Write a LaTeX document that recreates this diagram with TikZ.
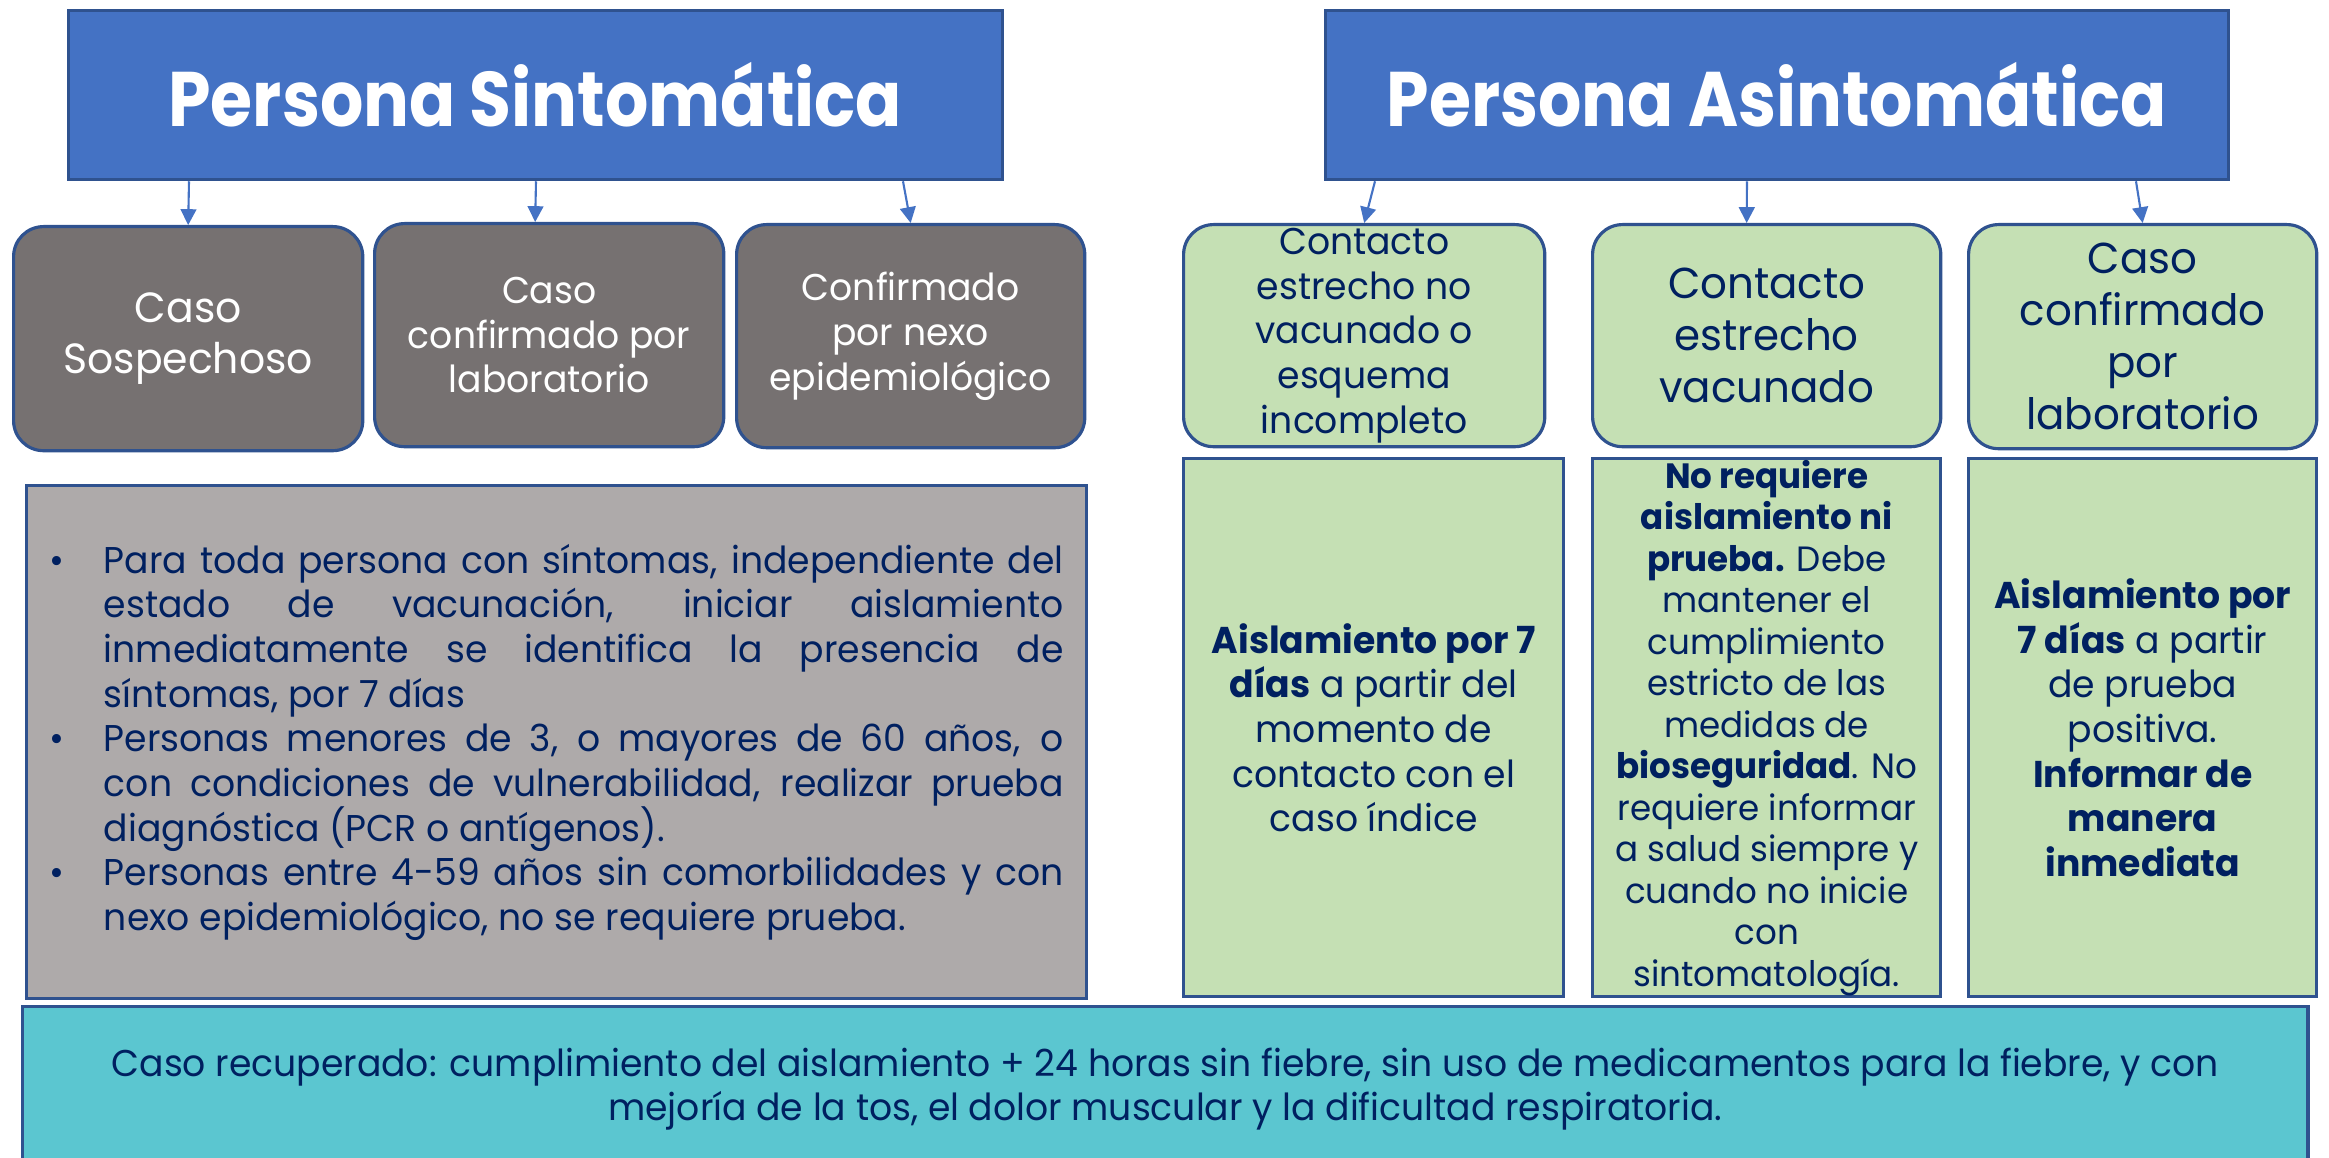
\documentclass[tikz,border=0pt]{standalone}
\usepackage{fontspec}
\setmainfont[FakeStretch=0.97]{Poppins}
\newfontfamily\titlefont[FakeStretch=0.88]{Poppins}
\usetikzlibrary{arrows.meta}
\definecolor{titleblue}{HTML}{4472C4}
\definecolor{edgeblue}{HTML}{2F528F}
\definecolor{casegray}{HTML}{767171}
\definecolor{notegray}{HTML}{AEAAAA}
\definecolor{notegreen}{HTML}{C5E0B4}
\definecolor{notecyan}{HTML}{5BC6D0}
\definecolor{navy}{HTML}{002060}
\newcommand{\punto}{\hangindent=15.6pt\hangafter=1\noindent\makebox[15.6pt][l]{\textbullet}}
\begin{document}
\begin{tikzpicture}[x=0.01cm,y=-0.01cm,
  every node/.style={anchor=north west,inner sep=0pt,align=center},
  titlebox/.style={draw=edgeblue,line width=0.9pt,fill=titleblue,text=white,font=\fontsize{22}{26}\titlefont\bfseries},
  casebox/.style={draw=edgeblue,line width=0.9pt,rounded corners=0.3cm,fill=casegray,text=white,font=\fontsize{10.6}{12.7}\selectfont},
  greenbox/.style={draw=edgeblue,line width=0.9pt,rounded corners=0.3cm,fill=notegreen,text=navy,font=\fontsize{12.3}{14.8}\selectfont},
  notebox/.style={draw=edgeblue,line width=0.9pt,text=navy,font=\fontsize{10.6}{12.7}\selectfont},
  flecha/.style={-{Triangle[length=4.5pt,width=4.5pt]},line width=0.6pt,titleblue}]
 \useasboundingbox (0,0) rectangle (2329,1158);
 %
 \node[titlebox,minimum width=9.33cm,minimum height=1.69cm] (sinto) at (67,9) {Persona Sintomática};
 \node[titlebox,minimum width=9.02cm,minimum height=1.69cm] (asinto) at (1324,9) {Persona Asintomática};
 %
 \node[casebox,minimum width=3.49cm,minimum height=2.24cm,font=\fontsize{12}{14.3}\selectfont] (sosp) at (12,225) {Caso\\Sospechoso};
 \node[casebox,minimum width=3.49cm,minimum height=2.23cm] (lab) at (373,222) {Caso\\confirmado por\\laboratorio};
 \node[casebox,minimum width=3.48cm,minimum height=2.23cm] (nexo) at (735,223) {Confirmado\\por nexo\\epidemiológico};
 %
 \node[greenbox,minimum width=3.61cm,minimum height=2.22cm,font=\fontsize{10.6}{12.7}\selectfont] (nova) at (1182,223) {Contacto\\estrecho no\\vacunado o\\esquema\\incompleto};
 \node[greenbox,minimum width=3.48cm,minimum height=2.22cm] (vacu) at (1591,223) {Contacto\\estrecho\\vacunado};
 \node[greenbox,minimum width=3.48cm,minimum height=2.24cm] (conf) at (1967,223) {Caso\\confirmado\\por\\laboratorio};
 %
 \draw[flecha] (sinto.south west) ++(122,0) -- (sosp.north);
 \draw[flecha] (sinto.south west) ++(469,0) -- ([xshift=-0.14cm]lab.north);
 \draw[flecha] (sinto.south west) ++(836,0) -- (nexo.north);
 \draw[flecha] (asinto.south west) ++(51,0) -- (nova.north);
 \draw[flecha] (asinto.south west) ++(423,0) -- ([xshift=-0.2cm]vacu.north);
 \draw[flecha] (asinto.south west) ++(812,0) -- (conf.north);
 %
 \node[notebox,fill=notegray,minimum width=10.59cm,minimum height=5.13cm,text width=10.14cm,align=justify] (pauta) at (25,484) {%
  \hyphenpenalty=10000
  \punto Para toda persona con síntomas, independiente del\linebreak estado de vacunación, iniciar aislamiento\linebreak inmediatamente se identifica la presencia de\linebreak síntomas, por 7 días\par
  \punto Personas menores de 3, o mayores de 60 años, o\linebreak con condiciones de vulnerabilidad, realizar prueba\linebreak diagnóstica (PCR o antígenos).\par
  \punto Personas entre 4-59 años sin comorbilidades y con\linebreak nexo epidemiológico, no se requiere prueba.\par};
 %
 \node[notebox,fill=notegreen,minimum width=3.80cm,minimum height=5.38cm] (aisla) at (1182,457) {\textbf{Aislamiento por 7}\\\textbf{días} a partir del\\momento de\\contacto con el\\caso índice};
 \node[notebox,fill=notegreen,minimum width=3.48cm,minimum height=5.38cm,font=\fontsize{10}{11.8}\selectfont] (norq) at (1591,457) {\textbf{No requiere}\\\textbf{aislamiento ni}\\\textbf{prueba.} Debe\\mantener el\\cumplimiento\\estricto de las\\medidas de\\\textbf{bioseguridad}. No\\requiere informar\\a salud siempre y\\cuando no inicie\\con\\sintomatología.};
 \node[notebox,fill=notegreen,minimum width=3.48cm,minimum height=5.38cm] (infor) at (1967,457) {\textbf{Aislamiento por}\\\textbf{7 días} a partir\\de prueba\\positiva.\\\textbf{Informar de}\\\textbf{manera}\\\textbf{inmediata}};
 %
 \node[notebox,fill=notecyan,minimum width=22.84cm,minimum height=1.65cm] (recup) at (21,1005) {Caso recuperado: cumplimiento del aislamiento + 24 horas sin fiebre, sin uso de medicamentos para la fiebre, y con\\mejoría de la tos, el dolor muscular y la dificultad respiratoria.};
\end{tikzpicture}
\end{document}
